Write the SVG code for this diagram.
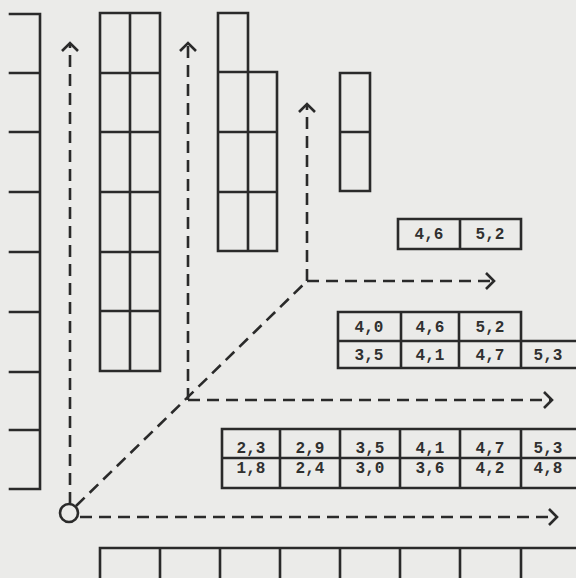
<svg xmlns="http://www.w3.org/2000/svg" width="576" height="578" viewBox="0 0 576 578">
<defs>
<style>
.g{fill:none;stroke:#2a2a2a;stroke-width:2.6;stroke-linecap:square}
.d{fill:none;stroke:#2a2a2a;stroke-width:2.6;stroke-dasharray:12 7}
.t{font-family:"Liberation Mono","Courier New",monospace;font-weight:bold;font-size:16px;fill:#303030;text-anchor:middle}
</style>
<marker id="ah" markerUnits="userSpaceOnUse" markerWidth="20" markerHeight="20" viewBox="-10 -10 20 20" refX="0" refY="0" orient="auto">
<path d="M-8,-8 L0,0 L-8,8" fill="none" stroke="#2a2a2a" stroke-width="2.6"/>
</marker>
</defs>
<rect width="576" height="578" fill="#ebebe9"/>
<g id="axis-left">
<path class="g" d="M40,14 V489 M10,14 H40 M10,73 H40 M10,132 H40 M10,192 H40 M10,252 H40 M10,312 H40 M10,372 H40 M10,430 H40 M10,489 H40"/>
</g>
<g id="column-2">
<path class="g" d="M100,13 H160 V371 H100 Z M130,13 V371 M100,73 H160 M100,132 H160 M100,192 H160 M100,252 H160 M100,311 H160"/>
</g>
<g id="column-3">
<path class="g" d="M218,13 H248 V72 H277 V251 H218 Z M248,72 V251 M218,72 H248 M218,132 H277 M218,192 H277"/>
</g>
<g id="column-4">
<path class="g" d="M340,73 H370 V191 H340 Z M340,132 H370"/>
</g>
<g id="box-small">
<path class="g" d="M398,219 H521 V249 H398 Z M460,219 V249"/>
<text class="t" x="429" y="239">4,6</text>
<text class="t" x="490" y="239">5,2</text>
</g>
<g id="box-middle">
<path class="g" d="M338,312 H521 V341 M338,312 V368 H576 M338,341 H576 M401,312 V368 M459,312 V368 M521,341 V368"/>
<text class="t" x="369" y="332">4,0</text>
<text class="t" x="430" y="332">4,6</text>
<text class="t" x="490" y="332">5,2</text>
<text class="t" x="369" y="360">3,5</text>
<text class="t" x="430" y="360">4,1</text>
<text class="t" x="490" y="360">4,7</text>
<text class="t" x="548" y="360">5,3</text>
</g>
<g id="box-bottom">
<path class="g" d="M576,429 H222 V488 H576 M222,458 H576 M280,429 V488 M340,429 V488 M400,429 V488 M460,429 V488 M521,429 V488"/>
<text class="t" x="251" y="453">2,3</text>
<text class="t" x="310" y="453">2,9</text>
<text class="t" x="370" y="453">3,5</text>
<text class="t" x="430" y="453">4,1</text>
<text class="t" x="490" y="453">4,7</text>
<text class="t" x="548" y="453">5,3</text>
<text class="t" x="251" y="473">1,8</text>
<text class="t" x="310" y="473">2,4</text>
<text class="t" x="370" y="473">3,0</text>
<text class="t" x="430" y="473">3,6</text>
<text class="t" x="490" y="473">4,2</text>
<text class="t" x="548" y="473">4,8</text>
</g>
<g id="row-bottom">
<path class="g" d="M576,548 H100 V580 M160,548 V580 M220,548 V580 M280,548 V580 M340,548 V580 M400,548 V580 M460,548 V580 M521,548 V580"/>
</g>
<g id="origin">
<circle cx="69" cy="513" r="9" fill="none" stroke="#2a2a2a" stroke-width="2.6"/>
</g>
<g id="connectors">
<path class="d" d="M70,504 V43" marker-end="url(#ah)"/>
<path class="d" d="M80,517 H557" marker-end="url(#ah)"/>
<path class="d" d="M76,506 L307,281"/>
<path class="d" d="M188,400 V43" marker-end="url(#ah)"/>
<path class="d" d="M188,400 H552" marker-end="url(#ah)"/>
<path class="d" d="M307,281 V104" marker-end="url(#ah)"/>
<path class="d" d="M307,281 H494" marker-end="url(#ah)"/>
</g>
</svg>
